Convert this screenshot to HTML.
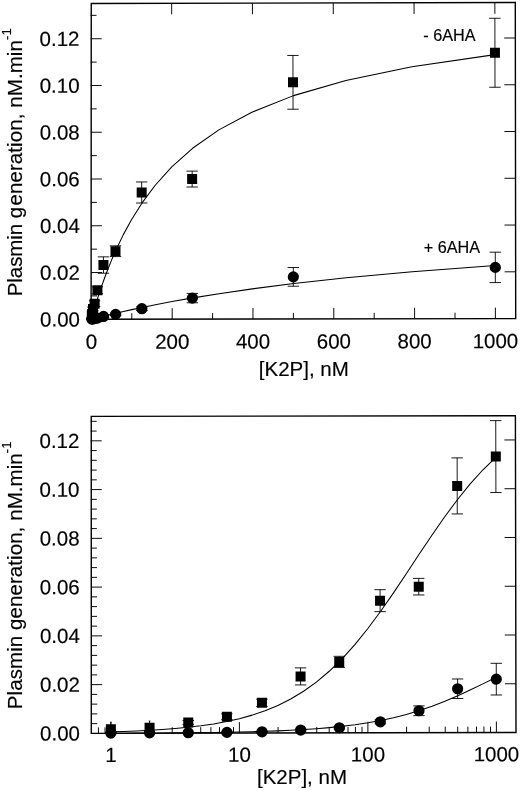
<!DOCTYPE html>
<html><head><meta charset="utf-8"><title>Plasmin generation</title>
<style>
html,body{margin:0;padding:0;background:#fff;}
svg{display:block;}
text{font-family:"Liberation Sans", Arial, Helvetica, sans-serif;font-size:20.5px;fill:#000;stroke:#000;stroke-width:0.16px;}
</style></head><body>
<svg width="520" height="791" viewBox="0 0 520 791">
<rect width="520" height="791" fill="#fff"/>
<polygon points="91.25,3.5 515.3,2.5 515.7,318.65 91.1,319.3" fill="none" stroke="#000" stroke-width="1.4" stroke-linejoin="miter"/>
<g transform="rotate(-0.1 91.1 319.3)">
<text x="80.00" y="326.40" text-anchor="end" >0.00</text>
<line x1="91.10" y1="295.92" x2="97.10" y2="295.92" stroke="#000" stroke-width="0.95"/>
<line x1="91.10" y1="272.54" x2="102.10" y2="272.54" stroke="#000" stroke-width="0.95"/>
<line x1="515.70" y1="272.54" x2="504.70" y2="272.54" stroke="#000" stroke-width="0.95"/>
<text x="80.00" y="279.64" text-anchor="end" >0.02</text>
<line x1="91.10" y1="249.16" x2="97.10" y2="249.16" stroke="#000" stroke-width="0.95"/>
<line x1="91.10" y1="225.78" x2="102.10" y2="225.78" stroke="#000" stroke-width="0.95"/>
<line x1="515.70" y1="225.78" x2="504.70" y2="225.78" stroke="#000" stroke-width="0.95"/>
<text x="80.00" y="232.88" text-anchor="end" >0.04</text>
<line x1="91.10" y1="202.40" x2="97.10" y2="202.40" stroke="#000" stroke-width="0.95"/>
<line x1="91.10" y1="179.02" x2="102.10" y2="179.02" stroke="#000" stroke-width="0.95"/>
<line x1="515.70" y1="179.02" x2="504.70" y2="179.02" stroke="#000" stroke-width="0.95"/>
<text x="80.00" y="186.12" text-anchor="end" >0.06</text>
<line x1="91.10" y1="155.64" x2="97.10" y2="155.64" stroke="#000" stroke-width="0.95"/>
<line x1="91.10" y1="132.26" x2="102.10" y2="132.26" stroke="#000" stroke-width="0.95"/>
<line x1="515.70" y1="132.26" x2="504.70" y2="132.26" stroke="#000" stroke-width="0.95"/>
<text x="80.00" y="139.36" text-anchor="end" >0.08</text>
<line x1="91.10" y1="108.88" x2="97.10" y2="108.88" stroke="#000" stroke-width="0.95"/>
<line x1="91.10" y1="85.50" x2="102.10" y2="85.50" stroke="#000" stroke-width="0.95"/>
<line x1="515.70" y1="85.50" x2="504.70" y2="85.50" stroke="#000" stroke-width="0.95"/>
<text x="80.00" y="92.60" text-anchor="end" >0.10</text>
<line x1="91.10" y1="62.12" x2="97.10" y2="62.12" stroke="#000" stroke-width="0.95"/>
<line x1="91.10" y1="38.74" x2="102.10" y2="38.74" stroke="#000" stroke-width="0.95"/>
<line x1="515.70" y1="38.74" x2="504.70" y2="38.74" stroke="#000" stroke-width="0.95"/>
<text x="80.00" y="45.84" text-anchor="end" >0.12</text>
<line x1="91.10" y1="15.36" x2="97.10" y2="15.36" stroke="#000" stroke-width="0.95"/>
<text x="91.40" y="348.80" text-anchor="middle" >0</text>
<line x1="131.80" y1="319.30" x2="131.80" y2="313.30" stroke="#000" stroke-width="0.95"/>
<line x1="172.20" y1="319.30" x2="172.20" y2="308.30" stroke="#000" stroke-width="0.95"/>
<line x1="172.20" y1="3.50" x2="172.20" y2="14.50" stroke="#000" stroke-width="0.95"/>
<text x="172.20" y="348.80" text-anchor="middle" >200</text>
<line x1="212.60" y1="319.30" x2="212.60" y2="313.30" stroke="#000" stroke-width="0.95"/>
<line x1="253.00" y1="319.30" x2="253.00" y2="308.30" stroke="#000" stroke-width="0.95"/>
<line x1="253.00" y1="3.50" x2="253.00" y2="14.50" stroke="#000" stroke-width="0.95"/>
<text x="253.00" y="348.80" text-anchor="middle" >400</text>
<line x1="293.40" y1="319.30" x2="293.40" y2="313.30" stroke="#000" stroke-width="0.95"/>
<line x1="333.80" y1="319.30" x2="333.80" y2="308.30" stroke="#000" stroke-width="0.95"/>
<line x1="333.80" y1="3.50" x2="333.80" y2="14.50" stroke="#000" stroke-width="0.95"/>
<text x="333.80" y="348.80" text-anchor="middle" >600</text>
<line x1="374.20" y1="319.30" x2="374.20" y2="313.30" stroke="#000" stroke-width="0.95"/>
<line x1="414.60" y1="319.30" x2="414.60" y2="308.30" stroke="#000" stroke-width="0.95"/>
<line x1="414.60" y1="3.50" x2="414.60" y2="14.50" stroke="#000" stroke-width="0.95"/>
<text x="414.60" y="348.80" text-anchor="middle" >800</text>
<line x1="455.00" y1="319.30" x2="455.00" y2="313.30" stroke="#000" stroke-width="0.95"/>
<line x1="495.40" y1="319.30" x2="495.40" y2="308.30" stroke="#000" stroke-width="0.95"/>
<line x1="495.40" y1="3.50" x2="495.40" y2="14.50" stroke="#000" stroke-width="0.95"/>
<text x="495.40" y="348.80" text-anchor="middle" >1000</text>
<path d="M91.53,318.84 L91.56,318.73 L91.60,318.58 L91.65,318.39 L91.72,318.16 L91.80,317.86 L91.91,317.49 L92.04,317.03 L92.21,316.45 L92.41,315.71 L92.68,314.80 L93.01,313.65 L93.42,312.22 L93.95,310.44 L94.61,308.23 L95.44,305.48 L96.49,302.10 L97.80,297.94 L99.46,292.86 L101.55,286.70 L104.18,279.31 L107.48,270.51 L111.65,260.19 L116.89,248.25 L123.49,234.68 L131.80,219.53 L142.26,203.00 L155.43,185.37 L172.01,167.04 L192.88,148.47 L219.16,130.13 L252.24,112.51 L293.88,95.98 L346.31,80.84 L412.31,67.27 L495.40,55.33" fill="none" stroke="#000" stroke-width="1.05" stroke-linejoin="round"/>
<path d="M91.53,319.27 L91.56,319.26 L91.60,319.25 L91.65,319.23 L91.72,319.22 L91.80,319.19 L91.91,319.17 L92.04,319.13 L92.21,319.09 L92.41,319.04 L92.68,318.97 L93.01,318.88 L93.42,318.77 L93.95,318.64 L94.61,318.47 L95.44,318.25 L96.49,317.99 L97.80,317.65 L99.46,317.23 L101.55,316.71 L104.18,316.06 L107.48,315.26 L111.65,314.26 L116.89,313.03 L123.49,311.53 L131.80,309.69 L142.26,307.48 L155.43,304.84 L172.01,301.71 L192.88,298.06 L219.16,293.87 L252.24,289.15 L293.88,283.93 L346.31,278.29 L412.31,272.34 L495.40,266.23" fill="none" stroke="#000" stroke-width="1.05" stroke-linejoin="round"/>
<line x1="495.40" y1="18.98" x2="495.40" y2="87.95" stroke="#000" stroke-width="0.9"/>
<line x1="489.70" y1="18.98" x2="501.10" y2="18.98" stroke="#000" stroke-width="0.9"/>
<line x1="489.70" y1="87.95" x2="501.10" y2="87.95" stroke="#000" stroke-width="0.9"/>
<line x1="293.40" y1="55.81" x2="293.40" y2="109.58" stroke="#000" stroke-width="0.9"/>
<line x1="287.70" y1="55.81" x2="299.10" y2="55.81" stroke="#000" stroke-width="0.9"/>
<line x1="287.70" y1="109.58" x2="299.10" y2="109.58" stroke="#000" stroke-width="0.9"/>
<line x1="192.40" y1="171.30" x2="192.40" y2="187.20" stroke="#000" stroke-width="0.9"/>
<line x1="186.70" y1="171.30" x2="198.10" y2="171.30" stroke="#000" stroke-width="0.9"/>
<line x1="186.70" y1="187.20" x2="198.10" y2="187.20" stroke="#000" stroke-width="0.9"/>
<line x1="141.90" y1="182.06" x2="141.90" y2="203.10" stroke="#000" stroke-width="0.9"/>
<line x1="136.20" y1="182.06" x2="147.60" y2="182.06" stroke="#000" stroke-width="0.9"/>
<line x1="136.20" y1="203.10" x2="147.60" y2="203.10" stroke="#000" stroke-width="0.9"/>
<line x1="115.64" y1="245.89" x2="115.64" y2="256.64" stroke="#000" stroke-width="0.9"/>
<line x1="109.94" y1="245.89" x2="121.34" y2="245.89" stroke="#000" stroke-width="0.9"/>
<line x1="109.94" y1="256.64" x2="121.34" y2="256.64" stroke="#000" stroke-width="0.9"/>
<line x1="103.52" y1="256.88" x2="103.52" y2="273.24" stroke="#000" stroke-width="0.9"/>
<line x1="97.82" y1="256.88" x2="109.22" y2="256.88" stroke="#000" stroke-width="0.9"/>
<line x1="97.82" y1="273.24" x2="109.22" y2="273.24" stroke="#000" stroke-width="0.9"/>
<line x1="97.46" y1="286.80" x2="97.46" y2="293.82" stroke="#000" stroke-width="0.9"/>
<line x1="91.76" y1="286.80" x2="103.16" y2="286.80" stroke="#000" stroke-width="0.9"/>
<line x1="91.76" y1="293.82" x2="103.16" y2="293.82" stroke="#000" stroke-width="0.9"/>
<line x1="94.63" y1="300.83" x2="94.63" y2="306.44" stroke="#000" stroke-width="0.9"/>
<line x1="88.93" y1="300.83" x2="100.33" y2="300.83" stroke="#000" stroke-width="0.9"/>
<line x1="88.93" y1="306.44" x2="100.33" y2="306.44" stroke="#000" stroke-width="0.9"/>
<line x1="93.02" y1="307.14" x2="93.02" y2="310.88" stroke="#000" stroke-width="0.9"/>
<line x1="87.32" y1="307.14" x2="98.72" y2="307.14" stroke="#000" stroke-width="0.9"/>
<line x1="87.32" y1="310.88" x2="98.72" y2="310.88" stroke="#000" stroke-width="0.9"/>
<line x1="92.21" y1="307.61" x2="92.21" y2="320.24" stroke="#000" stroke-width="0.9"/>
<line x1="91.41" y1="307.61" x2="93.01" y2="307.61" stroke="#000" stroke-width="0.9"/>
<line x1="91.41" y1="320.24" x2="93.01" y2="320.24" stroke="#000" stroke-width="0.9"/>
<line x1="91.80" y1="308.55" x2="91.80" y2="322.11" stroke="#000" stroke-width="0.9"/>
<line x1="91.00" y1="308.55" x2="92.60" y2="308.55" stroke="#000" stroke-width="0.9"/>
<line x1="91.00" y1="322.11" x2="92.60" y2="322.11" stroke="#000" stroke-width="0.9"/>
<line x1="495.40" y1="252.90" x2="495.40" y2="283.29" stroke="#000" stroke-width="0.9"/>
<line x1="489.70" y1="252.90" x2="501.10" y2="252.90" stroke="#000" stroke-width="0.9"/>
<line x1="489.70" y1="283.29" x2="501.10" y2="283.29" stroke="#000" stroke-width="0.9"/>
<line x1="293.40" y1="267.86" x2="293.40" y2="286.57" stroke="#000" stroke-width="0.9"/>
<line x1="287.70" y1="267.86" x2="299.10" y2="267.86" stroke="#000" stroke-width="0.9"/>
<line x1="287.70" y1="286.57" x2="299.10" y2="286.57" stroke="#000" stroke-width="0.9"/>
<line x1="192.40" y1="293.58" x2="192.40" y2="302.93" stroke="#000" stroke-width="0.9"/>
<line x1="186.70" y1="293.58" x2="198.10" y2="293.58" stroke="#000" stroke-width="0.9"/>
<line x1="186.70" y1="302.93" x2="198.10" y2="302.93" stroke="#000" stroke-width="0.9"/>
<line x1="141.90" y1="306.91" x2="141.90" y2="310.65" stroke="#000" stroke-width="0.9"/>
<line x1="136.20" y1="306.91" x2="147.60" y2="306.91" stroke="#000" stroke-width="0.9"/>
<line x1="136.20" y1="310.65" x2="147.60" y2="310.65" stroke="#000" stroke-width="0.9"/>
<line x1="115.64" y1="313.22" x2="115.64" y2="315.56" stroke="#000" stroke-width="0.9"/>
<line x1="109.94" y1="313.22" x2="121.34" y2="313.22" stroke="#000" stroke-width="0.9"/>
<line x1="109.94" y1="315.56" x2="121.34" y2="315.56" stroke="#000" stroke-width="0.9"/>
<line x1="103.52" y1="315.56" x2="103.52" y2="317.43" stroke="#000" stroke-width="0.9"/>
<line x1="97.82" y1="315.56" x2="109.22" y2="315.56" stroke="#000" stroke-width="0.9"/>
<line x1="97.82" y1="317.43" x2="109.22" y2="317.43" stroke="#000" stroke-width="0.9"/>
<line x1="97.46" y1="317.43" x2="97.46" y2="318.83" stroke="#000" stroke-width="0.9"/>
<line x1="91.76" y1="317.43" x2="103.16" y2="317.43" stroke="#000" stroke-width="0.9"/>
<line x1="91.76" y1="318.83" x2="103.16" y2="318.83" stroke="#000" stroke-width="0.9"/>
<line x1="94.63" y1="318.13" x2="94.63" y2="319.07" stroke="#000" stroke-width="0.9"/>
<line x1="88.93" y1="318.13" x2="100.33" y2="318.13" stroke="#000" stroke-width="0.9"/>
<line x1="88.93" y1="319.07" x2="100.33" y2="319.07" stroke="#000" stroke-width="0.9"/>
<line x1="93.02" y1="318.36" x2="93.02" y2="319.30" stroke="#000" stroke-width="0.9"/>
<line x1="87.32" y1="318.36" x2="98.72" y2="318.36" stroke="#000" stroke-width="0.9"/>
<line x1="87.32" y1="319.30" x2="98.72" y2="319.30" stroke="#000" stroke-width="0.9"/>
<line x1="92.21" y1="318.36" x2="92.21" y2="319.30" stroke="#000" stroke-width="0.9"/>
<line x1="86.51" y1="318.36" x2="97.91" y2="318.36" stroke="#000" stroke-width="0.9"/>
<line x1="86.51" y1="319.30" x2="97.91" y2="319.30" stroke="#000" stroke-width="0.9"/>
<line x1="91.80" y1="318.60" x2="91.80" y2="319.53" stroke="#000" stroke-width="0.9"/>
<line x1="86.10" y1="318.60" x2="97.50" y2="318.60" stroke="#000" stroke-width="0.9"/>
<line x1="86.10" y1="319.53" x2="97.50" y2="319.53" stroke="#000" stroke-width="0.9"/>
<rect x="490.40" y="48.47" width="10.0" height="10.0" fill="#000"/>
<rect x="288.40" y="77.69" width="10.0" height="10.0" fill="#000"/>
<rect x="187.40" y="174.25" width="10.0" height="10.0" fill="#000"/>
<rect x="136.90" y="187.58" width="10.0" height="10.0" fill="#000"/>
<rect x="110.64" y="246.26" width="10.0" height="10.0" fill="#000"/>
<rect x="98.52" y="260.06" width="10.0" height="10.0" fill="#000"/>
<rect x="92.46" y="285.31" width="10.0" height="10.0" fill="#000"/>
<rect x="89.63" y="298.64" width="10.0" height="10.0" fill="#000"/>
<rect x="88.02" y="304.01" width="10.0" height="10.0" fill="#000"/>
<rect x="87.21" y="308.92" width="10.0" height="10.0" fill="#000"/>
<rect x="86.80" y="310.33" width="10.0" height="10.0" fill="#000"/>
<circle cx="495.40" cy="268.10" r="5.6" fill="#000"/>
<circle cx="293.40" cy="277.22" r="5.6" fill="#000"/>
<circle cx="192.40" cy="298.26" r="5.6" fill="#000"/>
<circle cx="141.90" cy="308.78" r="5.6" fill="#000"/>
<circle cx="115.64" cy="314.39" r="5.6" fill="#000"/>
<circle cx="103.52" cy="316.49" r="5.6" fill="#000"/>
<circle cx="97.46" cy="318.13" r="5.6" fill="#000"/>
<circle cx="94.63" cy="318.60" r="5.6" fill="#000"/>
<circle cx="93.02" cy="318.83" r="5.6" fill="#000"/>
<circle cx="92.21" cy="318.83" r="5.6" fill="#000"/>
<circle cx="91.80" cy="319.07" r="5.6" fill="#000"/>
</g>
<text x="303.80" y="376.30" text-anchor="middle" >[K2P], nM</text>
<text x="423.30" y="40.50" text-anchor="start" style="font-size:16.2px">- 6AHA</text>
<text x="423.80" y="253.00" text-anchor="start" style="font-size:16.2px">+ 6AHA</text>
<text transform="translate(21.8,296.3) rotate(-90)" text-anchor="start"><tspan x="0" y="0" style="letter-spacing:-0.059px">Plasmin g</tspan><tspan x="90.76" y="0" style="letter-spacing:0.085px">eneration, nM.min</tspan><tspan dy="-10.6" style="font-size:13px;letter-spacing:0.085px">-1</tspan></text>
<polygon points="91.25,416.4 515.4,415.7 516.0,732.5 91.3,733.4" fill="none" stroke="#000" stroke-width="1.4" stroke-linejoin="miter"/>
<g transform="rotate(-0.12 91.3 733.4)">
<text x="80.00" y="740.50" text-anchor="end" >0.00</text>
<line x1="91.30" y1="723.65" x2="97.30" y2="723.65" stroke="#000" stroke-width="0.95"/>
<line x1="91.30" y1="713.90" x2="97.30" y2="713.90" stroke="#000" stroke-width="0.95"/>
<line x1="91.30" y1="704.14" x2="97.30" y2="704.14" stroke="#000" stroke-width="0.95"/>
<line x1="91.30" y1="694.39" x2="97.30" y2="694.39" stroke="#000" stroke-width="0.95"/>
<line x1="91.30" y1="684.64" x2="102.30" y2="684.64" stroke="#000" stroke-width="0.95"/>
<line x1="516.00" y1="684.64" x2="505.00" y2="684.64" stroke="#000" stroke-width="0.95"/>
<text x="80.00" y="691.74" text-anchor="end" >0.02</text>
<line x1="91.30" y1="674.89" x2="97.30" y2="674.89" stroke="#000" stroke-width="0.95"/>
<line x1="91.30" y1="665.14" x2="97.30" y2="665.14" stroke="#000" stroke-width="0.95"/>
<line x1="91.30" y1="655.38" x2="97.30" y2="655.38" stroke="#000" stroke-width="0.95"/>
<line x1="91.30" y1="645.63" x2="97.30" y2="645.63" stroke="#000" stroke-width="0.95"/>
<line x1="91.30" y1="635.88" x2="102.30" y2="635.88" stroke="#000" stroke-width="0.95"/>
<line x1="516.00" y1="635.88" x2="505.00" y2="635.88" stroke="#000" stroke-width="0.95"/>
<text x="80.00" y="642.98" text-anchor="end" >0.04</text>
<line x1="91.30" y1="626.13" x2="97.30" y2="626.13" stroke="#000" stroke-width="0.95"/>
<line x1="91.30" y1="616.38" x2="97.30" y2="616.38" stroke="#000" stroke-width="0.95"/>
<line x1="91.30" y1="606.62" x2="97.30" y2="606.62" stroke="#000" stroke-width="0.95"/>
<line x1="91.30" y1="596.87" x2="97.30" y2="596.87" stroke="#000" stroke-width="0.95"/>
<line x1="91.30" y1="587.12" x2="102.30" y2="587.12" stroke="#000" stroke-width="0.95"/>
<line x1="516.00" y1="587.12" x2="505.00" y2="587.12" stroke="#000" stroke-width="0.95"/>
<text x="80.00" y="594.22" text-anchor="end" >0.06</text>
<line x1="91.30" y1="577.37" x2="97.30" y2="577.37" stroke="#000" stroke-width="0.95"/>
<line x1="91.30" y1="567.62" x2="97.30" y2="567.62" stroke="#000" stroke-width="0.95"/>
<line x1="91.30" y1="557.86" x2="97.30" y2="557.86" stroke="#000" stroke-width="0.95"/>
<line x1="91.30" y1="548.11" x2="97.30" y2="548.11" stroke="#000" stroke-width="0.95"/>
<line x1="91.30" y1="538.36" x2="102.30" y2="538.36" stroke="#000" stroke-width="0.95"/>
<line x1="516.00" y1="538.36" x2="505.00" y2="538.36" stroke="#000" stroke-width="0.95"/>
<text x="80.00" y="545.46" text-anchor="end" >0.08</text>
<line x1="91.30" y1="528.61" x2="97.30" y2="528.61" stroke="#000" stroke-width="0.95"/>
<line x1="91.30" y1="518.86" x2="97.30" y2="518.86" stroke="#000" stroke-width="0.95"/>
<line x1="91.30" y1="509.10" x2="97.30" y2="509.10" stroke="#000" stroke-width="0.95"/>
<line x1="91.30" y1="499.35" x2="97.30" y2="499.35" stroke="#000" stroke-width="0.95"/>
<line x1="91.30" y1="489.60" x2="102.30" y2="489.60" stroke="#000" stroke-width="0.95"/>
<line x1="516.00" y1="489.60" x2="505.00" y2="489.60" stroke="#000" stroke-width="0.95"/>
<text x="80.00" y="496.70" text-anchor="end" >0.10</text>
<line x1="91.30" y1="479.85" x2="97.30" y2="479.85" stroke="#000" stroke-width="0.95"/>
<line x1="91.30" y1="470.10" x2="97.30" y2="470.10" stroke="#000" stroke-width="0.95"/>
<line x1="91.30" y1="460.34" x2="97.30" y2="460.34" stroke="#000" stroke-width="0.95"/>
<line x1="91.30" y1="450.59" x2="97.30" y2="450.59" stroke="#000" stroke-width="0.95"/>
<line x1="91.30" y1="440.84" x2="102.30" y2="440.84" stroke="#000" stroke-width="0.95"/>
<line x1="516.00" y1="440.84" x2="505.00" y2="440.84" stroke="#000" stroke-width="0.95"/>
<text x="80.00" y="447.94" text-anchor="end" >0.12</text>
<line x1="91.30" y1="431.09" x2="97.30" y2="431.09" stroke="#000" stroke-width="0.95"/>
<line x1="91.30" y1="421.34" x2="97.30" y2="421.34" stroke="#000" stroke-width="0.95"/>
<line x1="98.45" y1="733.40" x2="98.45" y2="727.40" stroke="#000" stroke-width="0.95"/>
<line x1="105.02" y1="733.40" x2="105.02" y2="727.40" stroke="#000" stroke-width="0.95"/>
<line x1="110.90" y1="733.40" x2="110.90" y2="722.40" stroke="#000" stroke-width="0.95"/>
<text x="110.90" y="762.00" text-anchor="middle" >1</text>
<line x1="149.58" y1="733.40" x2="149.58" y2="727.40" stroke="#000" stroke-width="0.95"/>
<line x1="172.21" y1="733.40" x2="172.21" y2="727.40" stroke="#000" stroke-width="0.95"/>
<line x1="188.26" y1="733.40" x2="188.26" y2="727.40" stroke="#000" stroke-width="0.95"/>
<line x1="200.72" y1="733.40" x2="200.72" y2="727.40" stroke="#000" stroke-width="0.95"/>
<line x1="210.89" y1="733.40" x2="210.89" y2="727.40" stroke="#000" stroke-width="0.95"/>
<line x1="219.50" y1="733.40" x2="219.50" y2="727.40" stroke="#000" stroke-width="0.95"/>
<line x1="226.95" y1="733.40" x2="226.95" y2="727.40" stroke="#000" stroke-width="0.95"/>
<line x1="233.52" y1="733.40" x2="233.52" y2="727.40" stroke="#000" stroke-width="0.95"/>
<line x1="239.40" y1="733.40" x2="239.40" y2="722.40" stroke="#000" stroke-width="0.95"/>
<text x="239.40" y="762.00" text-anchor="middle" >10</text>
<line x1="278.08" y1="733.40" x2="278.08" y2="727.40" stroke="#000" stroke-width="0.95"/>
<line x1="300.71" y1="733.40" x2="300.71" y2="727.40" stroke="#000" stroke-width="0.95"/>
<line x1="316.76" y1="733.40" x2="316.76" y2="727.40" stroke="#000" stroke-width="0.95"/>
<line x1="329.22" y1="733.40" x2="329.22" y2="727.40" stroke="#000" stroke-width="0.95"/>
<line x1="339.39" y1="733.40" x2="339.39" y2="727.40" stroke="#000" stroke-width="0.95"/>
<line x1="348.00" y1="733.40" x2="348.00" y2="727.40" stroke="#000" stroke-width="0.95"/>
<line x1="355.45" y1="733.40" x2="355.45" y2="727.40" stroke="#000" stroke-width="0.95"/>
<line x1="362.02" y1="733.40" x2="362.02" y2="727.40" stroke="#000" stroke-width="0.95"/>
<line x1="367.90" y1="733.40" x2="367.90" y2="722.40" stroke="#000" stroke-width="0.95"/>
<text x="367.90" y="762.00" text-anchor="middle" >100</text>
<line x1="406.58" y1="733.40" x2="406.58" y2="727.40" stroke="#000" stroke-width="0.95"/>
<line x1="429.21" y1="733.40" x2="429.21" y2="727.40" stroke="#000" stroke-width="0.95"/>
<line x1="445.26" y1="733.40" x2="445.26" y2="727.40" stroke="#000" stroke-width="0.95"/>
<line x1="457.72" y1="733.40" x2="457.72" y2="727.40" stroke="#000" stroke-width="0.95"/>
<line x1="467.89" y1="733.40" x2="467.89" y2="727.40" stroke="#000" stroke-width="0.95"/>
<line x1="476.50" y1="733.40" x2="476.50" y2="727.40" stroke="#000" stroke-width="0.95"/>
<line x1="483.95" y1="733.40" x2="483.95" y2="727.40" stroke="#000" stroke-width="0.95"/>
<line x1="490.52" y1="733.40" x2="490.52" y2="727.40" stroke="#000" stroke-width="0.95"/>
<line x1="496.40" y1="733.40" x2="496.40" y2="722.40" stroke="#000" stroke-width="0.95"/>
<text x="496.40" y="762.00" text-anchor="middle" >1000</text>
<path d="M110.90,731.90 L123.75,731.52 L136.60,731.03 L149.45,730.42 L162.30,729.66 L175.15,728.71 L188.00,727.51 L200.85,726.02 L213.70,724.16 L226.55,721.85 L239.40,718.99 L252.25,715.46 L265.10,711.12 L277.95,705.83 L290.80,699.41 L303.65,691.70 L316.50,682.53 L329.35,671.77 L342.20,659.32 L355.05,645.16 L367.90,629.37 L380.75,612.13 L393.60,593.75 L406.45,574.63 L419.30,555.26 L432.15,536.14 L445.00,517.76 L457.85,500.53 L470.70,484.74 L483.55,470.59 L496.40,458.14" fill="none" stroke="#000" stroke-width="1.05" stroke-linejoin="round"/>
<path d="M110.90,733.29 L123.75,733.26 L136.60,733.23 L149.45,733.18 L162.30,733.12 L175.15,733.05 L188.00,732.96 L200.85,732.85 L213.70,732.71 L226.55,732.53 L239.40,732.31 L252.25,732.03 L265.10,731.68 L277.95,731.25 L290.80,730.70 L303.65,730.02 L316.50,729.18 L329.35,728.14 L342.20,726.86 L355.05,725.29 L367.90,723.38 L380.75,721.08 L393.60,718.32 L406.45,715.06 L419.30,711.25 L432.15,706.88 L445.00,701.96 L457.85,696.51 L470.70,690.63 L483.55,684.43 L496.40,678.06" fill="none" stroke="#000" stroke-width="1.05" stroke-linejoin="round"/>
<line x1="496.40" y1="421.46" x2="496.40" y2="493.38" stroke="#000" stroke-width="0.9"/>
<line x1="490.70" y1="421.46" x2="502.10" y2="421.46" stroke="#000" stroke-width="0.9"/>
<line x1="490.70" y1="493.38" x2="502.10" y2="493.38" stroke="#000" stroke-width="0.9"/>
<line x1="457.72" y1="458.64" x2="457.72" y2="514.71" stroke="#000" stroke-width="0.9"/>
<line x1="452.02" y1="458.64" x2="463.42" y2="458.64" stroke="#000" stroke-width="0.9"/>
<line x1="452.02" y1="514.71" x2="463.42" y2="514.71" stroke="#000" stroke-width="0.9"/>
<line x1="419.04" y1="579.07" x2="419.04" y2="595.65" stroke="#000" stroke-width="0.9"/>
<line x1="413.34" y1="579.07" x2="424.74" y2="579.07" stroke="#000" stroke-width="0.9"/>
<line x1="413.34" y1="595.65" x2="424.74" y2="595.65" stroke="#000" stroke-width="0.9"/>
<line x1="380.35" y1="590.29" x2="380.35" y2="612.23" stroke="#000" stroke-width="0.9"/>
<line x1="374.65" y1="590.29" x2="386.05" y2="590.29" stroke="#000" stroke-width="0.9"/>
<line x1="374.65" y1="612.23" x2="386.05" y2="612.23" stroke="#000" stroke-width="0.9"/>
<line x1="339.39" y1="656.85" x2="339.39" y2="668.06" stroke="#000" stroke-width="0.9"/>
<line x1="333.69" y1="656.85" x2="345.09" y2="656.85" stroke="#000" stroke-width="0.9"/>
<line x1="333.69" y1="668.06" x2="345.09" y2="668.06" stroke="#000" stroke-width="0.9"/>
<line x1="300.71" y1="668.31" x2="300.71" y2="685.37" stroke="#000" stroke-width="0.9"/>
<line x1="295.01" y1="668.31" x2="306.41" y2="668.31" stroke="#000" stroke-width="0.9"/>
<line x1="295.01" y1="685.37" x2="306.41" y2="685.37" stroke="#000" stroke-width="0.9"/>
<line x1="262.03" y1="699.51" x2="262.03" y2="706.83" stroke="#000" stroke-width="0.9"/>
<line x1="256.33" y1="699.51" x2="267.73" y2="699.51" stroke="#000" stroke-width="0.9"/>
<line x1="256.33" y1="706.83" x2="267.73" y2="706.83" stroke="#000" stroke-width="0.9"/>
<line x1="226.95" y1="714.14" x2="226.95" y2="719.99" stroke="#000" stroke-width="0.9"/>
<line x1="221.25" y1="714.14" x2="232.65" y2="714.14" stroke="#000" stroke-width="0.9"/>
<line x1="221.25" y1="719.99" x2="232.65" y2="719.99" stroke="#000" stroke-width="0.9"/>
<line x1="188.26" y1="720.72" x2="188.26" y2="724.62" stroke="#000" stroke-width="0.9"/>
<line x1="182.56" y1="720.72" x2="193.96" y2="720.72" stroke="#000" stroke-width="0.9"/>
<line x1="182.56" y1="724.62" x2="193.96" y2="724.62" stroke="#000" stroke-width="0.9"/>
<line x1="149.58" y1="721.21" x2="149.58" y2="734.38" stroke="#000" stroke-width="0.9"/>
<line x1="148.78" y1="721.21" x2="150.38" y2="721.21" stroke="#000" stroke-width="0.9"/>
<line x1="148.78" y1="734.38" x2="150.38" y2="734.38" stroke="#000" stroke-width="0.9"/>
<line x1="110.90" y1="722.19" x2="110.90" y2="736.33" stroke="#000" stroke-width="0.9"/>
<line x1="110.10" y1="722.19" x2="111.70" y2="722.19" stroke="#000" stroke-width="0.9"/>
<line x1="110.10" y1="736.33" x2="111.70" y2="736.33" stroke="#000" stroke-width="0.9"/>
<line x1="496.40" y1="664.16" x2="496.40" y2="695.85" stroke="#000" stroke-width="0.9"/>
<line x1="490.70" y1="664.16" x2="502.10" y2="664.16" stroke="#000" stroke-width="0.9"/>
<line x1="490.70" y1="695.85" x2="502.10" y2="695.85" stroke="#000" stroke-width="0.9"/>
<line x1="457.72" y1="679.76" x2="457.72" y2="699.27" stroke="#000" stroke-width="0.9"/>
<line x1="452.02" y1="679.76" x2="463.42" y2="679.76" stroke="#000" stroke-width="0.9"/>
<line x1="452.02" y1="699.27" x2="463.42" y2="699.27" stroke="#000" stroke-width="0.9"/>
<line x1="419.04" y1="706.58" x2="419.04" y2="716.33" stroke="#000" stroke-width="0.9"/>
<line x1="413.34" y1="706.58" x2="424.74" y2="706.58" stroke="#000" stroke-width="0.9"/>
<line x1="413.34" y1="716.33" x2="424.74" y2="716.33" stroke="#000" stroke-width="0.9"/>
<line x1="380.35" y1="720.48" x2="380.35" y2="724.38" stroke="#000" stroke-width="0.9"/>
<line x1="374.65" y1="720.48" x2="386.05" y2="720.48" stroke="#000" stroke-width="0.9"/>
<line x1="374.65" y1="724.38" x2="386.05" y2="724.38" stroke="#000" stroke-width="0.9"/>
<line x1="339.39" y1="727.06" x2="339.39" y2="729.50" stroke="#000" stroke-width="0.9"/>
<line x1="333.69" y1="727.06" x2="345.09" y2="727.06" stroke="#000" stroke-width="0.9"/>
<line x1="333.69" y1="729.50" x2="345.09" y2="729.50" stroke="#000" stroke-width="0.9"/>
<line x1="300.71" y1="729.50" x2="300.71" y2="731.45" stroke="#000" stroke-width="0.9"/>
<line x1="295.01" y1="729.50" x2="306.41" y2="729.50" stroke="#000" stroke-width="0.9"/>
<line x1="295.01" y1="731.45" x2="306.41" y2="731.45" stroke="#000" stroke-width="0.9"/>
<line x1="262.03" y1="731.45" x2="262.03" y2="732.91" stroke="#000" stroke-width="0.9"/>
<line x1="256.33" y1="731.45" x2="267.73" y2="731.45" stroke="#000" stroke-width="0.9"/>
<line x1="256.33" y1="732.91" x2="267.73" y2="732.91" stroke="#000" stroke-width="0.9"/>
<line x1="226.95" y1="732.18" x2="226.95" y2="733.16" stroke="#000" stroke-width="0.9"/>
<line x1="221.25" y1="732.18" x2="232.65" y2="732.18" stroke="#000" stroke-width="0.9"/>
<line x1="221.25" y1="733.16" x2="232.65" y2="733.16" stroke="#000" stroke-width="0.9"/>
<line x1="188.26" y1="732.42" x2="188.26" y2="733.40" stroke="#000" stroke-width="0.9"/>
<line x1="182.56" y1="732.42" x2="193.96" y2="732.42" stroke="#000" stroke-width="0.9"/>
<line x1="182.56" y1="733.40" x2="193.96" y2="733.40" stroke="#000" stroke-width="0.9"/>
<line x1="149.58" y1="732.42" x2="149.58" y2="733.40" stroke="#000" stroke-width="0.9"/>
<line x1="143.88" y1="732.42" x2="155.28" y2="732.42" stroke="#000" stroke-width="0.9"/>
<line x1="143.88" y1="733.40" x2="155.28" y2="733.40" stroke="#000" stroke-width="0.9"/>
<line x1="110.90" y1="732.67" x2="110.90" y2="733.64" stroke="#000" stroke-width="0.9"/>
<line x1="105.20" y1="732.67" x2="116.60" y2="732.67" stroke="#000" stroke-width="0.9"/>
<line x1="105.20" y1="733.64" x2="116.60" y2="733.64" stroke="#000" stroke-width="0.9"/>
<rect x="491.40" y="452.42" width="10.0" height="10.0" fill="#000"/>
<rect x="452.72" y="481.67" width="10.0" height="10.0" fill="#000"/>
<rect x="414.04" y="582.36" width="10.0" height="10.0" fill="#000"/>
<rect x="375.35" y="596.26" width="10.0" height="10.0" fill="#000"/>
<rect x="334.39" y="657.45" width="10.0" height="10.0" fill="#000"/>
<rect x="295.71" y="671.84" width="10.0" height="10.0" fill="#000"/>
<rect x="257.03" y="698.17" width="10.0" height="10.0" fill="#000"/>
<rect x="221.95" y="712.07" width="10.0" height="10.0" fill="#000"/>
<rect x="183.26" y="717.67" width="10.0" height="10.0" fill="#000"/>
<rect x="144.58" y="722.79" width="10.0" height="10.0" fill="#000"/>
<rect x="105.90" y="724.26" width="10.0" height="10.0" fill="#000"/>
<circle cx="496.40" cy="680.01" r="5.6" fill="#000"/>
<circle cx="457.72" cy="689.52" r="5.6" fill="#000"/>
<circle cx="419.04" cy="711.46" r="5.6" fill="#000"/>
<circle cx="380.35" cy="722.43" r="5.6" fill="#000"/>
<circle cx="339.39" cy="728.28" r="5.6" fill="#000"/>
<circle cx="300.71" cy="730.47" r="5.6" fill="#000"/>
<circle cx="262.03" cy="732.18" r="5.6" fill="#000"/>
<circle cx="226.95" cy="732.67" r="5.6" fill="#000"/>
<circle cx="188.26" cy="732.91" r="5.6" fill="#000"/>
<circle cx="149.58" cy="732.91" r="5.6" fill="#000"/>
<circle cx="110.90" cy="733.16" r="5.6" fill="#000"/>
</g>
<text x="302.00" y="784.40" text-anchor="middle" >[K2P], nM</text>
<text transform="translate(21.8,709.2) rotate(-90)" text-anchor="start"><tspan x="0" y="0" style="letter-spacing:0.075px">Plasmin g</tspan><tspan x="90.67" y="0" style="letter-spacing:0.075px">eneration, nM.min</tspan><tspan dy="-10.6" style="font-size:13px;letter-spacing:0.075px">-1</tspan></text>
</svg>
</body></html>
